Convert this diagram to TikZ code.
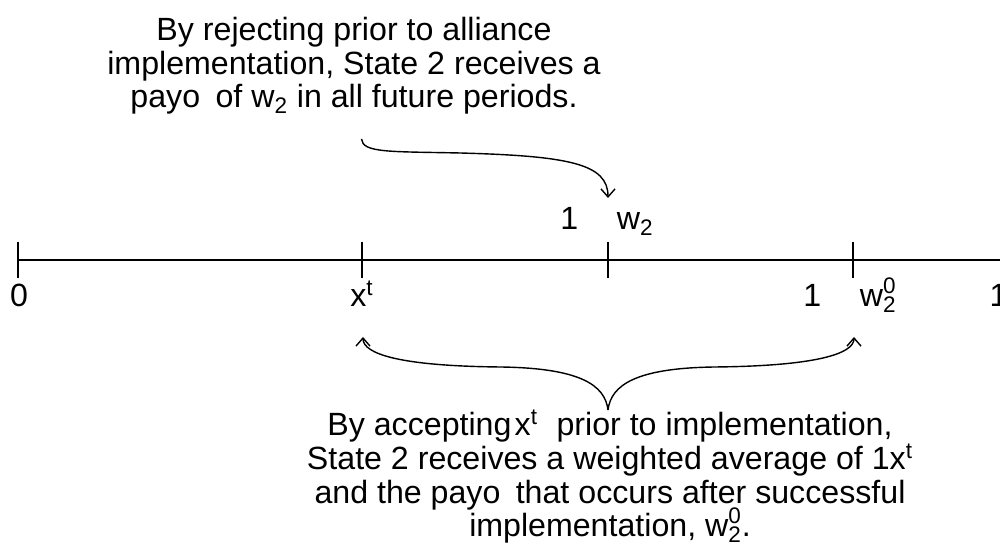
\documentclass[tikz,border=0pt]{standalone}
\usepackage{fontspec}
\setmainfont{Liberation Sans}
\usepackage{tikz}
\usetikzlibrary{arrows.meta, positioning}
\newcommand{\hochx}[1]{\smash{\textsuperscript{#1}}}
\newcommand{\tiefx}[1]{\smash{\textsubscript{#1}}}

\begin{document}
\begin{tikzpicture}[
    txt/.style = {font=\fontsize{18.3}{19.2}\selectfont, inner sep=0pt},
    axe/.style = {line width=1.1pt},
    tickmark/.style = {line width=0.8pt},
    pil/.style = {line width=0.8pt, -{Straight Barb[length=1.6mm, width=2.8mm]}}
    ]

  \useasboundingbox (0,0) rectangle (20,11.18);
  \clip (0,0) rectangle (20,11.18);

  % number line and ticks
  \foreach \name/\xx in {t0/0.36, tx/7.24, tw/12.16, twz/17.06} {
    \draw[tickmark] (\xx,5.62) -- (\xx,6.34);
    \coordinate (\name) at (\xx,5.98);
  }
  \coordinate (tend) at (20.4,5.98);
  \draw[axe] (t0) -- (tend);

  % tick labels
  \node[txt, anchor=base] (zero) at (0.38,5.04) {0};
  \node[txt, anchor=base] (xt) at (7.24,5.04) {x\textsuperscript{t}};
  \node[txt, anchor=base] (onewz) at (17.0,5.04) {1\hspace{1.2em}w\rlap{\raisebox{0.15ex}{\textsuperscript{0}}}\textsubscript{2}};
  \node[txt, anchor=base] (one) at (19.97,5.04) {1};
  \node[txt, anchor=base] (onew) at (12.14,6.58) {1\hspace{1.2em}w\textsubscript{2}};

  % explanations (base = last line)
  \node[txt, align=center, anchor=base] (reject) at (7.08,9.02)
    {By rejecting prior to alliance\\
     implementation, State 2 receives a\\
     payo\hspace{0.2em} of w\tiefx{2} in all future periods.};
  \node[txt, align=center, anchor=base] (accept) at (12.2,0.44)
    {By accepting\hspace{0.1em}x\hochx{t}\hspace{0.3em} prior to implementation,\\
     State 2 receives a weighted average of 1x\hochx{t}\\
     and the payo\hspace{0.2em} that occurs after successful\\
     implementation, w\rlap{\raisebox{0.15ex}{\hochx{0}}}\tiefx{2}.};

  % arrows
  \coordinate (rejstart) at (7.23,8.40);
  \coordinate (rejtip) at (12.16,7.22);
  \coordinate (accroot) at (12.16,2.98);
  \coordinate (xtip) at (7.26,4.44);
  \coordinate (wztip) at (17.08,4.44);

  \draw[pil] (rejstart) .. controls (7.25,8.12) and (7.8,8.15) .. (9.2,8.12)
    .. controls (11.4,8.06) and (12.16,7.9) .. (rejtip);
  \draw[pil] (accroot) .. controls (12.10,3.48) and (11.6,3.82) .. (10.0,3.84)
    .. controls (8.0,3.86) and (7.26,4.1) .. (xtip);
  \draw[pil] (accroot) .. controls (12.22,3.48) and (12.72,3.82) .. (14.3,3.84)
    .. controls (16.3,3.86) and (17.08,4.1) .. (wztip);

\end{tikzpicture}
\end{document}
